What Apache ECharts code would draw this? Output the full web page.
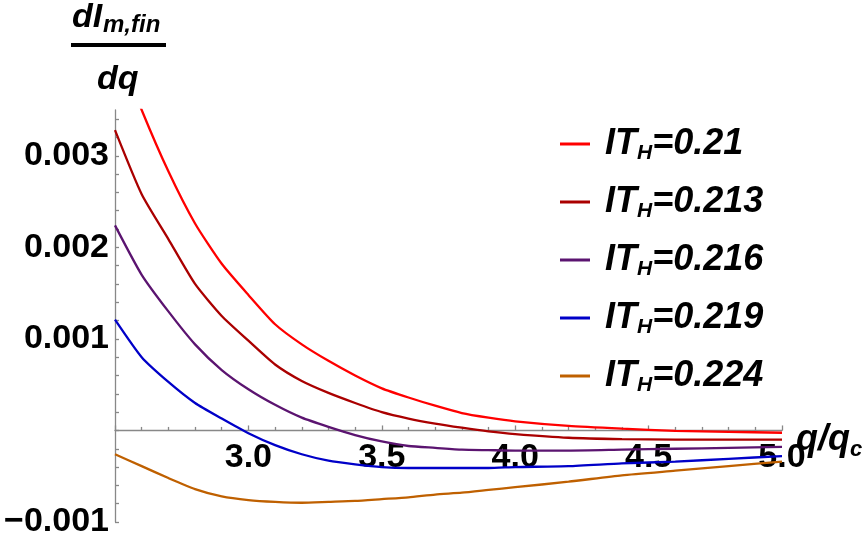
<!DOCTYPE html>
<html>
<head>
<meta charset="utf-8">
<script src="https://cdn.jsdelivr.net/npm/echarts@6/dist/echarts.min.js"></script>
<style>
  html, body { margin: 0; padding: 0; background: #fff; }
  #chart { width: 865px; height: 536px; }
</style>
</head>
<body>
<div id="chart"></div>
<script>
// q/q_c sample points
const qValues = [2.5, 2.6, 2.7, 2.8, 2.9, 3.0, 3.1, 3.2, 3.3, 3.4, 3.5, 3.6, 3.7, 3.8, 3.9, 4.0, 4.2, 4.4, 4.6, 4.8, 5.0];

// dI/dq for each IT_H
const it210 = [0.00425, 0.0035, 0.00283, 0.00226, 0.00182, 0.00148, 0.00116, 0.00094, 0.00076, 0.0006, 0.00046, 0.00036, 0.00027, 0.00019, 0.00014, 0.0001, 0.00005, 0.00002, -0.000005, -0.000015, -0.000025];
const it213 = [0.00328, 0.00258, 0.00209, 0.0016, 0.00125, 0.00098, 0.00072, 0.00054, 0.00041, 0.0003, 0.0002, 0.00013, 0.000075, 0.00003, -0.00001, -0.00004, -0.00008, -0.000095, -0.0001, -0.0001, -0.0001];
const it216 = [0.00224, 0.0017, 0.0013, 0.00094, 0.00066, 0.00045, 0.00028, 0.00014, 0.00004, -0.00005, -0.00012, -0.00017, -0.00019, -0.00021, -0.000215, -0.00022, -0.00022, -0.00021, -0.0002, -0.00019, -0.00018];
const it219 = [0.00121, 0.0008, 0.00053, 0.0003, 0.00013, -0.00003, -0.00016, -0.00026, -0.00033, -0.00037, -0.0004, -0.00041, -0.00041, -0.00041, -0.00041, -0.0004, -0.00039, -0.00036, -0.00034, -0.00031, -0.00028];
const it224 = [-0.00026, -0.00039, -0.00052, -0.00064, -0.00072, -0.00076, -0.00078, -0.00079, -0.00078, -0.00077, -0.00075, -0.00073, -0.0007, -0.00068, -0.00065, -0.00062, -0.00056, -0.00049, -0.00044, -0.00039, -0.00034];

const itLabels = ['0.21', '0.213', '0.216', '0.219', '0.224'];
const curves = [it210, it213, it216, it219, it224];
const colors = ['#ff0000', '#aa0000', '#5b1470', '#0000c8', '#bf6000'];

const yTickValues = [-0.001, -0.0008, -0.0006, -0.0004, -0.0002, 0, 0.0002, 0.0004, 0.0006, 0.0008, 0.001, 0.0012, 0.0014, 0.0016, 0.0018, 0.002, 0.0022, 0.0024, 0.0026, 0.0028, 0.003, 0.0032, 0.0034];
const yLabelValues = [-0.001, 0.001, 0.002, 0.003];

const FONT = 'Liberation Sans';

const chart = echarts.init(document.getElementById('chart'));

const series = curves.map((vals, i) => ({
  name: 'IT_H=' + itLabels[i],
  type: 'line',
  symbol: 'none',
  smooth: 0.2,
  clip: true,
  lineStyle: { color: colors[i], width: 2.3 },
  itemStyle: { color: colors[i] },
  data: qValues.map((q, j) => [q, vals[j]])
}));

const option = {
  animation: false,
  grid: { left: 115, top: 110, width: 667, height: 412, outerBoundsMode: 'none' },
  legend: {
    orient: 'vertical',
    left: 555,
    top: 121,
    itemWidth: 30,
    itemHeight: 3,
    itemGap: 20,
    icon: 'rect',
    data: series.map(s => s.name),
    formatter: name => {
      const v = name.split('=')[1];
      return '{sp| }{a|IT}{b|H}{a|=' + v + '}';
    },
    textStyle: {
      rich: {
        sp: { width: 10 },
        a: { fontFamily: FONT, fontSize: 36, fontWeight: 'bold', fontStyle: 'italic', color: '#000', lineHeight: 40 },
        b: { fontFamily: FONT, fontSize: 21, fontWeight: 'bold', fontStyle: 'italic', color: '#000', lineHeight: 14, verticalAlign: 'bottom' }
      }
    }
  },
  xAxis: {
    type: 'value',
    min: 2.5,
    max: 5.0,
    interval: 0.5,
    name: '{a|q/q}{b|c}',
    nameLocation: 'end',
    nameGap: 14,
    nameMoveOverlap: false,
    nameTextStyle: {
      padding: [20, 0, 0, 0],
      rich: {
        a: { fontFamily: FONT, fontSize: 36, fontWeight: 'bold', fontStyle: 'italic', color: '#000', lineHeight: 40 },
        b: { fontFamily: FONT, fontSize: 22, fontWeight: 'bold', fontStyle: 'italic', color: '#000', lineHeight: 16, verticalAlign: 'bottom' }
      }
    },
    axisLine: { onZero: true, lineStyle: { color: '#888', width: 1.3 } },
    axisTick: { inside: true, length: 5, lineStyle: { color: '#888', width: 1.3 } },
    minorTick: { show: true, splitNumber: 5, length: 3.5, lineStyle: { color: '#888', width: 1.3 } },
    splitLine: { show: false },
    axisLabel: {
      margin: -81,
      fontFamily: FONT,
      fontSize: 34,
      fontWeight: 'bold',
      color: '#000',
      formatter: v => (v === 2.5 ? '' : v.toFixed(1))
    }
  },
  yAxis: {
    type: 'value',
    min: -0.001,
    max: 0.0035,
    axisLine: { lineStyle: { color: '#888', width: 1.3 } },
    axisTick: { inside: true, length: 4, customValues: yTickValues, lineStyle: { color: '#888', width: 1.3 } },
    splitLine: { show: false },
    axisLabel: {
      margin: 6,
      customValues: yLabelValues,
      fontFamily: FONT,
      fontSize: 34,
      fontWeight: 'bold',
      color: '#000',
      formatter: v => (v < 0 ? '\u2212' + Math.abs(v).toFixed(3) : v.toFixed(3))
    }
  },
  graphic: [
    { type: 'text', x: 72, y: 18, style: { text: 'dI', font: 'italic bold 34px ' + FONT, fill: '#000', verticalAlign: 'middle' } },
    { type: 'text', x: 103, y: 25, style: { text: 'm,fin', font: 'italic bold 24px ' + FONT, fill: '#000', verticalAlign: 'middle' } },
    { type: 'rect', shape: { x: 71, y: 43, width: 95, height: 4 }, style: { fill: '#000' } },
    { type: 'text', x: 97, y: 80, style: { text: 'dq', font: 'italic bold 34px ' + FONT, fill: '#000', verticalAlign: 'middle' } }
  ],
  series: series
};

chart.setOption(option);
</script>
</body>
</html>
